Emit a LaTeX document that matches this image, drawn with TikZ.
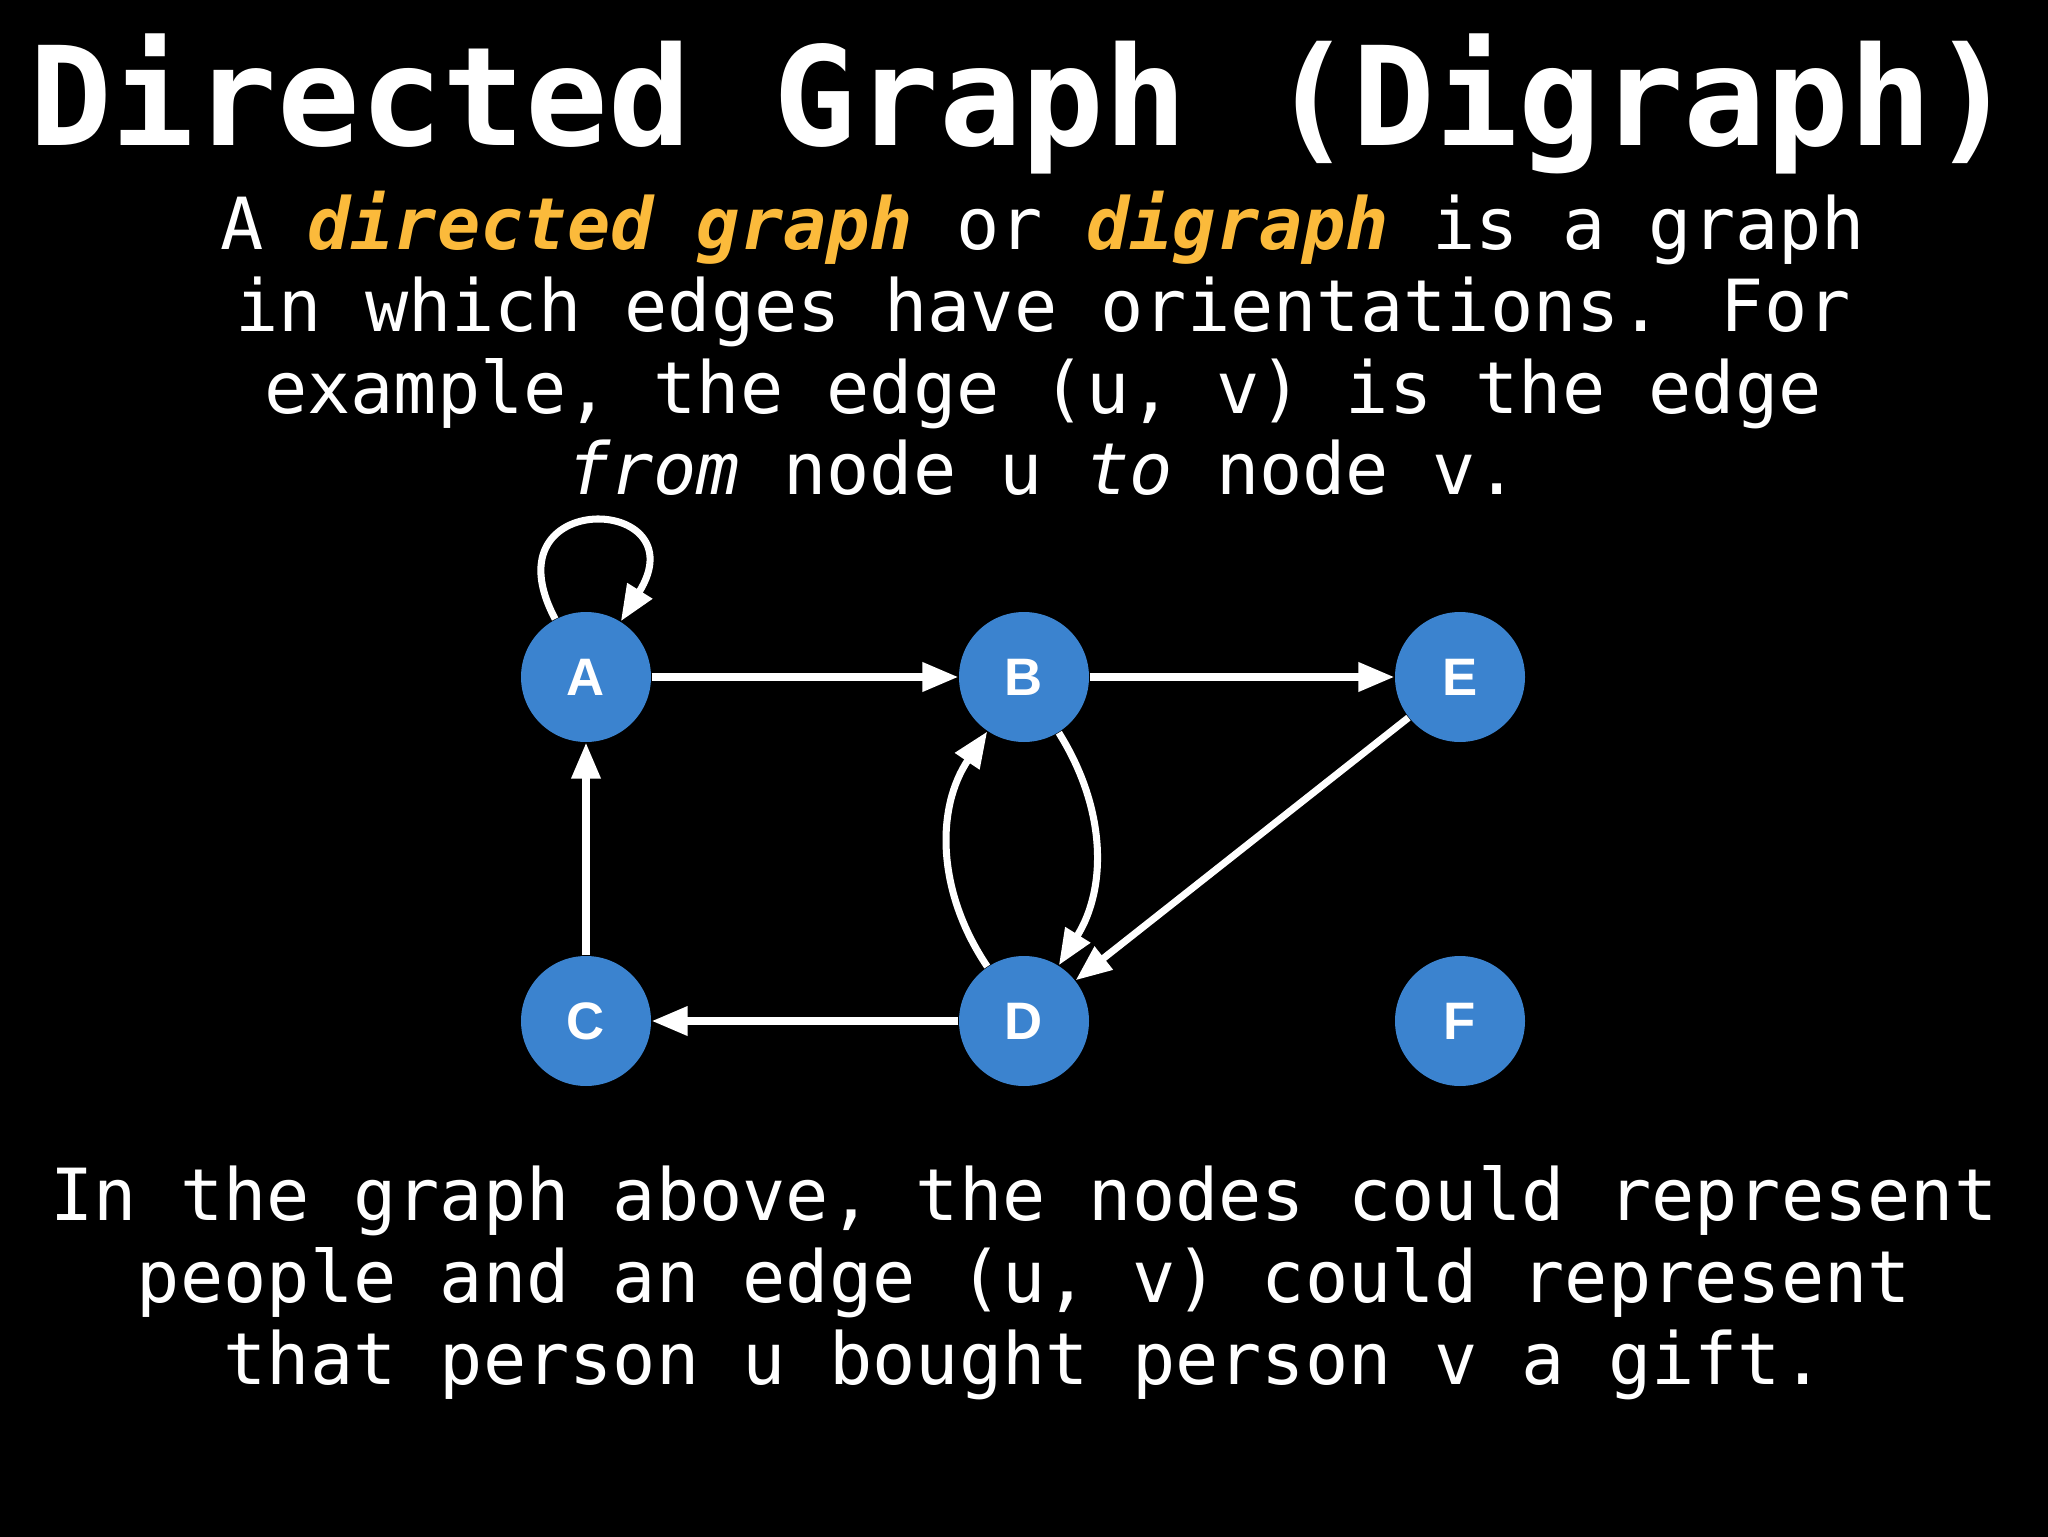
\documentclass[tikz,border=0pt]{standalone}
\usepackage{fontspec}
\usepackage{tikz}
\usetikzlibrary{arrows.meta}
\newfontfamily\slidemono{DejaVu Sans Mono}
\newfontfamily\slidesans{Liberation Sans}
\definecolor{vertexblue}{RGB}{59,131,207}
\definecolor{termorange}{RGB}{251,186,59}
\newcommand{\term}[1]{{\bfseries\itshape\color{termorange}#1}}

\begin{document}
\begin{tikzpicture}[x=0.1mm, y=0.1mm, node distance=34.4mm,
    vertex/.style={circle, fill=vertexblue, minimum size=13mm, inner sep=0pt,
      text=white, font=\slidesans\bfseries\fontsize{15}{15}\selectfont},
    arc/.style={draw=white, line width=2pt, -{Triangle[length=3.6mm,width=2.8mm]}},
    slidetext/.style={text=white, align=center, anchor=base, inner sep=0pt,
      font=\slidemono\fontsize{20.45}{23.3}\selectfont}]
  \useasboundingbox (0,0) rectangle (2048,1536);
  \fill[black] (-10,-10) rectangle (2058,1546);
  \node[text=white, anchor=base, inner sep=0pt,
    font=\slidemono\bfseries\fontsize{39.1}{40}\selectfont] (title) at (1022,1390)
    {Directed Graph (Digraph)};
  % base of a multi-line node = its last line
  \node[slidetext] (intro) at (1043,1041)
    {A \term{directed graph} or \term{digraph} is a graph\\
     in which edges have orientations. For\\
     example, the edge (u, v) is the edge\\
     \textit{from} node u \textit{to} node v.};
  % the graph
  \node[vertex] (A) at (586,859) {A};
  \node[vertex] (B) [right of=A, node distance=43.8mm] {B};
  \node[vertex] (E) [right of=B, node distance=43.6mm] {E};
  \node[vertex] (C) [below of=A] {C};
  \node[vertex] (D) [below of=B] {D};
  \node[vertex] (F) [below of=E] {F};
  \path (A) edge[arc, out=118, in=58, distance=15mm] (A)
        (A) edge[arc] (B)
        (B) edge[arc] (E)
        (C) edge[arc] (A)
        (D) edge[arc] (C)
        (E) edge[arc] (D)
        (B) edge[arc, bend left=32] (D)
        (D) edge[arc, bend left=34] (B);
  \node[slidetext] (story) at (1024,152)
    {In the graph above, the nodes could represent\\
     people and an edge (u, v) could represent\\
     that person u bought person v a gift.};
\end{tikzpicture}
\end{document}
